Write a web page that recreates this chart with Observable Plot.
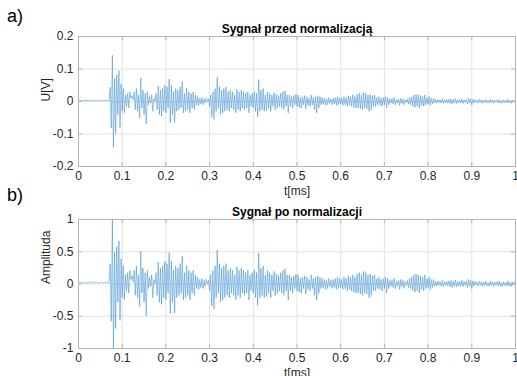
<!DOCTYPE html>
<html>
<head>
<meta charset="utf-8">
<script src="https://cdn.jsdelivr.net/npm/d3@7"></script>
<script src="https://cdn.jsdelivr.net/npm/@observablehq/plot@0.6"></script>
<style>
  html, body { margin: 0; padding: 0; background: #fff; overflow: hidden; }
  #wrap { position: relative; width: 517px; height: 376px; overflow: hidden; font-family: "Liberation Sans", Arial, sans-serif; color: #000; }
  .panel { position: absolute; left: 0; width: 517px; z-index: 1; }
  .panel svg { max-width: none !important; display: block; }
  .tag { position: absolute; left: 7px; font-size: 18px; line-height: 1; z-index: 2; }
</style>
</head>
<body>
<div id="wrap">
  <div id="p1" class="panel" style="top:0px"></div>
  <div id="p2" class="panel" style="top:200px"></div>
  <div class="tag" style="top:7px">a)</div>
  <div class="tag" style="top:186px">b)</div>
</div>
<script>
// ---- data ----
const titleA = "Sygnał przed normalizacją";
const titleB = "Sygnał po normalizacji";
const xLabel = "t[ms]";
const yLabelA = "U[V]";
const yLabelB = "Amplituda";
const xTicks = [0, 0.1, 0.2, 0.3, 0.4, 0.5, 0.6, 0.7, 0.8, 0.9, 1];
const yTicksA = [-0.2, -0.1, 0, 0.1, 0.2];
const yTicksB = [-1, -0.5, 0, 0.5, 1];
const dtMs = 0.0025; // sampling step of the estimated trace [ms]
// estimated signal samples in mV (t = 0 ... 1 ms)
const signalMV = [
  3,4,3,2,3,4,3,3,2,4,3,3,4,2,3,3,4,3,2,3,4,3,3,2,3,4,3,2,3,
  44,-82,142,-141,70,-98,82,-40,95,-80,55,-30,40,-35,20,-15,25,-20,30,10,
  18,5,30,-25,40,-30,20,-50,72,-20,35,-40,25,-70,30,-10,15,-5,20,-30,
  10,0,25,-25,48,-40,35,-45,40,-30,50,-35,45,-20,69,-65,50,-40,30,-64,
  40,-30,35,-25,45,-20,62,-35,25,-30,40,-25,30,-35,25,-20,30,-25,20,-10,
  15,-12,10,-8,12,-10,8,-5,10,0,8,-15,20,-48,30,-55,40,-30,75,-20,
  45,-40,35,-35,40,-30,45,-25,30,-30,35,-20,30,-25,20,-35,38,-25,30,-30,
  35,-20,30,-25,25,-20,30,-35,20,-15,25,-20,30,-30,25,-47,68,-30,35,-25,
  40,-30,20,-28,30,-20,25,-30,20,-15,28,-25,22,-20,18,-15,25,-20,30,-25,
  33,-15,20,-35,20,-15,15,-20,18,-10,22,-15,20,-18,12,-20,15,-10,18,-22,
  15,-12,10,-15,20,-10,12,-25,15,-35,18,-20,15,-10,12,-8,10,-12,8,-10,
  12,-6,8,-10,10,-8,12,-12,15,-10,12,-8,10,-12,15,-10,12,-15,18,-12,
  15,-15,20,-18,15,-20,22,-20,25,-22,20,-25,28,-20,25,-22,20,-30,22,-25,
  18,-15,20,-15,12,-10,15,-12,10,-15,12,-10,15,-20,12,-10,8,-5,10,-8,
  12,-10,6,-5,8,-12,10,-6,8,-10,5,-3,8,-8,12,-10,15,-15,20,-18,
  22,-15,20,-20,18,-12,15,-15,20,-10,12,-8,15,-12,10,-8,10,-5,6,-4,
  6,-3,5,-5,8,-6,5,-3,6,-4,7,-6,8,-8,6,-5,9,-6,5,-4,
  6,-5,8,-6,5,-3,6,-8,10,-5,8,-10,7,-4,6,-2,4,-5,6,-3,
  5,-6,4,-3,6,-4,3,-5,7,-3,5,-6,4,-2,5,-4,6,-5,3,-6,
  5,-3,4,-5,7,-4,3,-6,5,-3,4,-2
];

// ---- build tables ----
const traceA = signalMV.map((v, i) => ({t: i * dtMs, u: v / 1000}));
const peak = d3.max(traceA, d => Math.abs(d.u));
const traceB = traceA.map(d => ({t: d.t, a: d.u / peak}));

const lineColor = "#2f86cc";
const gridColor = "#e3e3e3";
const frameColor = "#b4b4b4";
const textColor = "#262626";

function panel({height, marginTop, marginBottom, data, yKey, yDomain, yTicks, title, yLabel}) {
  const innerH = height - marginTop - marginBottom;
  const innerW = 517 - 78 - 2;
  return Plot.plot({
    width: 517,
    height,
    marginTop,
    marginBottom,
    marginLeft: 78,
    marginRight: 2,
    style: {fontFamily: "'Liberation Sans', Arial, sans-serif", fontSize: "12px", color: textColor, background: "white", overflow: "visible"},
    x: {domain: [0, 1], ticks: xTicks, tickFormat: d => String(d), tickSize: 0, tickPadding: 5, label: null},
    y: {domain: yDomain, ticks: yTicks, tickFormat: d => String(d), tickSize: 0, tickPadding: 5, label: null},
    marks: [
      Plot.gridX(xTicks, {stroke: gridColor, strokeOpacity: 1}),
      Plot.gridY(yTicks, {stroke: gridColor, strokeOpacity: 1}),
      Plot.lineY(data, {x: "t", y: yKey, stroke: lineColor, strokeWidth: 0.5}),
      Plot.frame({stroke: frameColor}),
      Plot.tickX(xTicks, {x: d => d, stroke: frameColor, insetTop: innerH - 4}),
      Plot.tickX(xTicks, {x: d => d, stroke: frameColor, insetBottom: innerH - 4}),
      Plot.tickY(yTicks, {y: d => d, stroke: frameColor, insetRight: innerW - 4}),
      Plot.tickY(yTicks, {y: d => d, stroke: frameColor, insetLeft: innerW - 4}),
      Plot.text([title], {text: d => d, frameAnchor: "top", lineAnchor: "bottom", dy: -4, fontWeight: "bold", fontSize: 12, fill: "#000"}),
      Plot.text([xLabel], {text: d => d, frameAnchor: "bottom", lineAnchor: "top", dy: 20, fontSize: 12, fill: textColor}),
      Plot.text([yLabel], {text: d => d, frameAnchor: "left", rotate: -90, dx: -32, fontSize: 12, fill: textColor})
    ]
  });
}

document.getElementById("p1").append(panel({
  height: 200, marginTop: 36, marginBottom: 34,
  data: traceA, yKey: "u", yDomain: [-0.2, 0.2], yTicks: yTicksA,
  title: titleA, yLabel: yLabelA
}));
document.getElementById("p2").append(panel({
  height: 176, marginTop: 19, marginBottom: 28,
  data: traceB, yKey: "a", yDomain: [-1, 1], yTicks: yTicksB,
  title: titleB, yLabel: yLabelB
}));
</script>
</body>
</html>
